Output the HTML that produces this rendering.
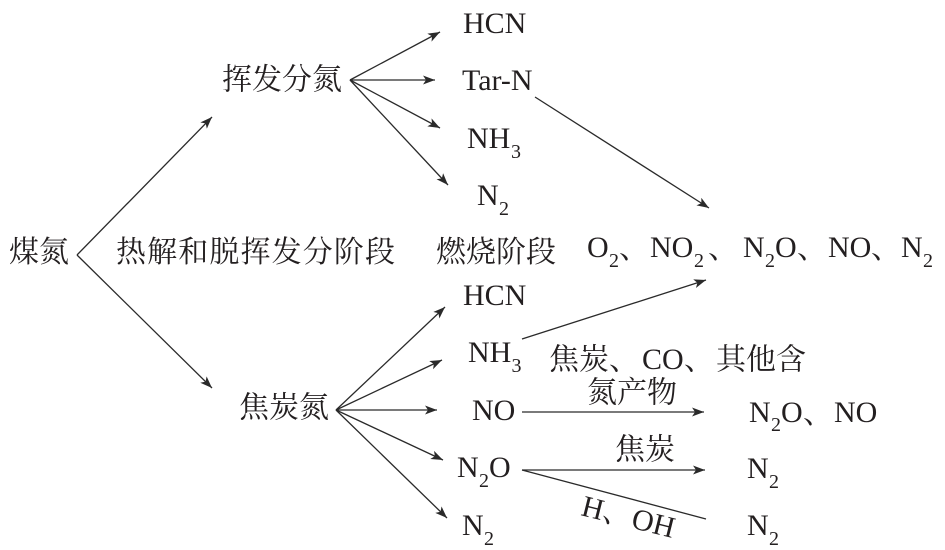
<!DOCTYPE html>
<html>
<head>
<meta charset="utf-8">
<style>
  html, body { margin: 0; padding: 0; background: #ffffff; }
  body { width: 945px; height: 550px; overflow: hidden; }
  svg { display: block; }
  .t { font-family: "Liberation Serif", "Noto Serif CJK SC", serif; font-size: 30px; fill: #231f20; }
  .c { font-family: "Noto Serif CJK SC", "Liberation Serif", serif; font-size: 30px; fill: #231f20; }
  .s { font-family: "Liberation Serif", serif; font-size: 20px; fill: #231f20; }
  .l { stroke: #2a2a2a; stroke-width: 1.3; fill: none; }
</style>
</head>
<body>
<svg width="945" height="550" viewBox="0 0 945 550" xmlns="http://www.w3.org/2000/svg">
  <defs>
    <marker id="a" markerUnits="userSpaceOnUse" markerWidth="13" markerHeight="10" refX="12" refY="4.5" orient="auto">
      <path d="M0,0 L12,4.5 L0,9 L3,4.5 z" fill="#2a2a2a"/>
    </marker>
  </defs>

  <!-- connectors -->
  <line class="l" x1="77" y1="255" x2="212" y2="117" marker-end="url(#a)"/>
  <line class="l" x1="77" y1="255" x2="212" y2="388" marker-end="url(#a)"/>

  <line class="l" x1="350" y1="80" x2="440" y2="32" marker-end="url(#a)"/>
  <line class="l" x1="350" y1="80" x2="435" y2="80" marker-end="url(#a)"/>
  <line class="l" x1="350" y1="80" x2="440" y2="128" marker-end="url(#a)"/>
  <line class="l" x1="350" y1="80" x2="448" y2="185" marker-end="url(#a)"/>

  <line class="l" x1="535" y1="97" x2="709" y2="208" marker-end="url(#a)"/>

  <line class="l" x1="336" y1="410" x2="445" y2="307" marker-end="url(#a)"/>
  <line class="l" x1="336" y1="410" x2="442" y2="360" marker-end="url(#a)"/>
  <line class="l" x1="336" y1="410" x2="437" y2="410" marker-end="url(#a)"/>
  <line class="l" x1="336" y1="410" x2="443" y2="460" marker-end="url(#a)"/>
  <line class="l" x1="336" y1="410" x2="447" y2="518" marker-end="url(#a)"/>

  <line class="l" x1="522" y1="339" x2="706" y2="280" marker-end="url(#a)"/>
  <line class="l" x1="522" y1="412" x2="704" y2="412" marker-end="url(#a)"/>
  <line class="l" x1="522" y1="470" x2="705" y2="470" marker-end="url(#a)"/>
  <line class="l" x1="522" y1="470" x2="706" y2="519"/>

  <!-- left / stage labels -->
  <text class="c" x="9" y="262">煤氮</text>
  <text class="c" x="222" y="89.5">挥发分氮</text>
  <text class="c" x="116" y="262" textLength="279" lengthAdjust="spacing">热解和脱挥发分阶段</text>
  <text class="c" x="436" y="262">燃烧阶段</text>
  <text class="c" x="239" y="417.5">焦炭氮</text>

  <!-- volatile products -->
  <text class="t" x="463" y="33">HCN</text>
  <text class="t" x="462" y="90">Tar-N</text>
  <text class="t" x="467" y="148">NH</text>
  <text class="s" x="511" y="158">3</text>
  <text class="t" x="477" y="205">N</text>
  <text class="s" x="499" y="215">2</text>

  <!-- combustion products row -->
  <text class="t" x="587" y="257">O</text>
  <text class="s" x="609" y="267">2</text>
  <text class="c" x="619" y="258">、</text>
  <text class="t" x="650" y="257">NO</text>
  <text class="s" x="694" y="267">2</text>
  <text class="c" x="708" y="258">、</text>
  <text class="t" x="743" y="257">N</text>
  <text class="s" x="765" y="267">2</text>
  <text class="t" x="775" y="257">O</text>
  <text class="c" x="797" y="258">、</text>
  <text class="t" x="828" y="257">NO</text>
  <text class="c" x="871" y="258">、</text>
  <text class="t" x="901" y="257">N</text>
  <text class="s" x="923" y="267">2</text>

  <!-- char products -->
  <text class="t" x="463" y="305">HCN</text>
  <text class="t" x="468" y="362">NH</text>
  <text class="s" x="511.5" y="372">3</text>
  <text class="t" x="472" y="420">NO</text>
  <text class="t" x="457" y="477">N</text>
  <text class="s" x="479" y="487">2</text>
  <text class="t" x="489" y="477">O</text>
  <text class="t" x="462" y="535">N</text>
  <text class="s" x="484" y="545">2</text>

  <!-- reaction labels -->
  <text class="c" x="549" y="369.5">焦炭、</text>
  <text class="t" x="642" y="369">CO</text>
  <text class="c" x="684" y="369.5">、</text>
  <text class="c" x="716" y="369.5">其他含</text>
  <text class="c" x="587" y="402.5">氮产物</text>
  <text class="c" x="615" y="459.5">焦炭</text>
  <text class="t" x="580" y="515" transform="rotate(14 580 515)">H、OH</text>

  <!-- right products -->
  <text class="t" x="749" y="422">N</text>
  <text class="s" x="771" y="431">2</text>
  <text class="t" x="781" y="422">O</text>
  <text class="c" x="803" y="423">、</text>
  <text class="t" x="834" y="422">NO</text>
  <text class="t" x="747" y="478">N</text>
  <text class="s" x="769" y="488">2</text>
  <text class="t" x="747" y="535">N</text>
  <text class="s" x="769" y="545">2</text>
</svg>
</body>
</html>
